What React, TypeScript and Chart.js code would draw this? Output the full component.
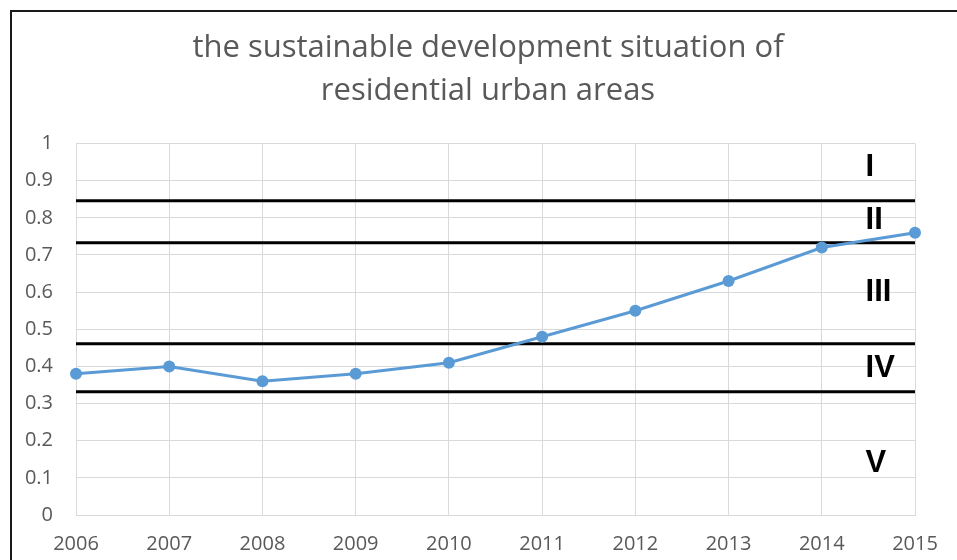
import React, { useEffect, useRef } from "react";
import { Chart, registerables } from "chart.js";

Chart.register(...registerables);

const titleLines = ["the sustainable development situation of", "residential urban areas"];
const years = ["2006", "2007", "2008", "2009", "2010", "2011", "2012", "2013", "2014", "2015"];
const values = [0.38, 0.4, 0.36, 0.38, 0.41, 0.48, 0.55, 0.63, 0.72, 0.76];
const thresholds = [0.846, 0.733, 0.461, 0.332];
const zoneLabels = ["I", "II", "III", "IV", "V"];
const zoneLabelValues = [0.935, 0.792, 0.6, 0.395, 0.14];
const yTickLabels = ["0", "0.1", "0.2", "0.3", "0.4", "0.5", "0.6", "0.7", "0.8", "0.9", "1"];

const TEXT_GRAY = "#595959";
const GRID = "#D9D9D9";
const LINE_BLUE = "#5B9BD5";

const decorPlugin = {
  id: "decor",
  afterDraw(chart: any) {
    const ctx = chart.ctx;
    const x = chart.scales.x;
    const y = chart.scales.y;
    ctx.save();
    // outer frame
    ctx.strokeStyle = "#1a1a1a";
    ctx.lineWidth = 2;
    ctx.strokeRect(11, 11, 2000, 2000);
    // zone labels
    const x8 = x.getPixelForValue(8);
    const x9 = x.getPixelForValue(9);
    const lx = x8 + 0.47 * (x9 - x8);
    ctx.fillStyle = "#000000";
    ctx.font = "bold 31px 'Liberation Sans', Arial, sans-serif";
    ctx.textAlign = "left";
    ctx.textBaseline = "middle";
    zoneLabels.forEach((t, i) => {
      ctx.fillText(t, lx, y.getPixelForValue(zoneLabelValues[i]));
    });
    ctx.restore();
  },
};

export default function App() {
  const ref = useRef<HTMLCanvasElement | null>(null);
  useEffect(() => {
    if (!ref.current) return;
    const thresholdSets = thresholds.map((v) => ({
      label: "t" + v,
      data: years.map(() => v),
      borderColor: "#000000",
      borderWidth: 3,
      pointRadius: 0,
      pointHoverRadius: 0,
      fill: false,
      order: 2,
    }));
    const chart = new Chart(ref.current, {
      type: "line",
      data: {
        labels: years,
        datasets: [
          ...thresholdSets,
          {
            label: "situation",
            data: values,
            borderColor: LINE_BLUE,
            backgroundColor: LINE_BLUE,
            borderWidth: 3,
            pointRadius: 6,
            pointBorderWidth: 0,
            pointBackgroundColor: LINE_BLUE,
            fill: false,
            order: 1,
          },
        ],
      },
      options: {
        responsive: false,
        animation: false,
        layout: { padding: { left: 19, right: 0, top: 0, bottom: 0 } },
        plugins: {
          legend: { display: false },
          tooltip: { enabled: false },
          title: {
            display: true,
            text: titleLines,
            color: TEXT_GRAY,
            font: { family: "'Open Sans', sans-serif", size: 31, weight: "normal", lineHeight: 1.38 },
            padding: { top: 27, bottom: 31 },
          },
        },
        scales: {
          x: {
            type: "category",
            offset: false,
            grid: { color: GRID, lineWidth: 1, drawTicks: false },
            border: { color: GRID, width: 1 },
            ticks: {
              color: TEXT_GRAY,
              font: { family: "'Open Sans', sans-serif", size: 20 },
              padding: 17,
              maxRotation: 0,
              autoSkip: false,
            },
            afterFit(scale: any) {
              scale.height = 45;
            },
          },
          y: {
            min: 0,
            max: 1,
            grid: { color: GRID, lineWidth: 1, drawTicks: false },
            border: { color: GRID, width: 1 },
            ticks: {
              stepSize: 0.1,
              color: TEXT_GRAY,
              font: { family: "'Open Sans', sans-serif", size: 20 },
              padding: 23,
              callback: (_v: any, i: number) => yTickLabels[i],
            },
            afterFit(scale: any) {
              scale.width = 57;
            },
          },
          spacer: {
            type: "linear",
            position: "right",
            min: 0,
            max: 1,
            grid: { display: false, drawOnChartArea: false },
            border: { display: false },
            ticks: { display: false },
            afterFit(scale: any) {
              scale.width = 42;
            },
          },
        },
      },
      plugins: [decorPlugin],
    });
    return () => chart.destroy();
  }, []);
  return (
    <div style={{ position: "fixed", left: 0, top: 0, width: 957, height: 560, background: "#fff" }}>
      <canvas ref={ref} width={957} height={560} style={{ display: "block" }} />
    </div>
  );
}
